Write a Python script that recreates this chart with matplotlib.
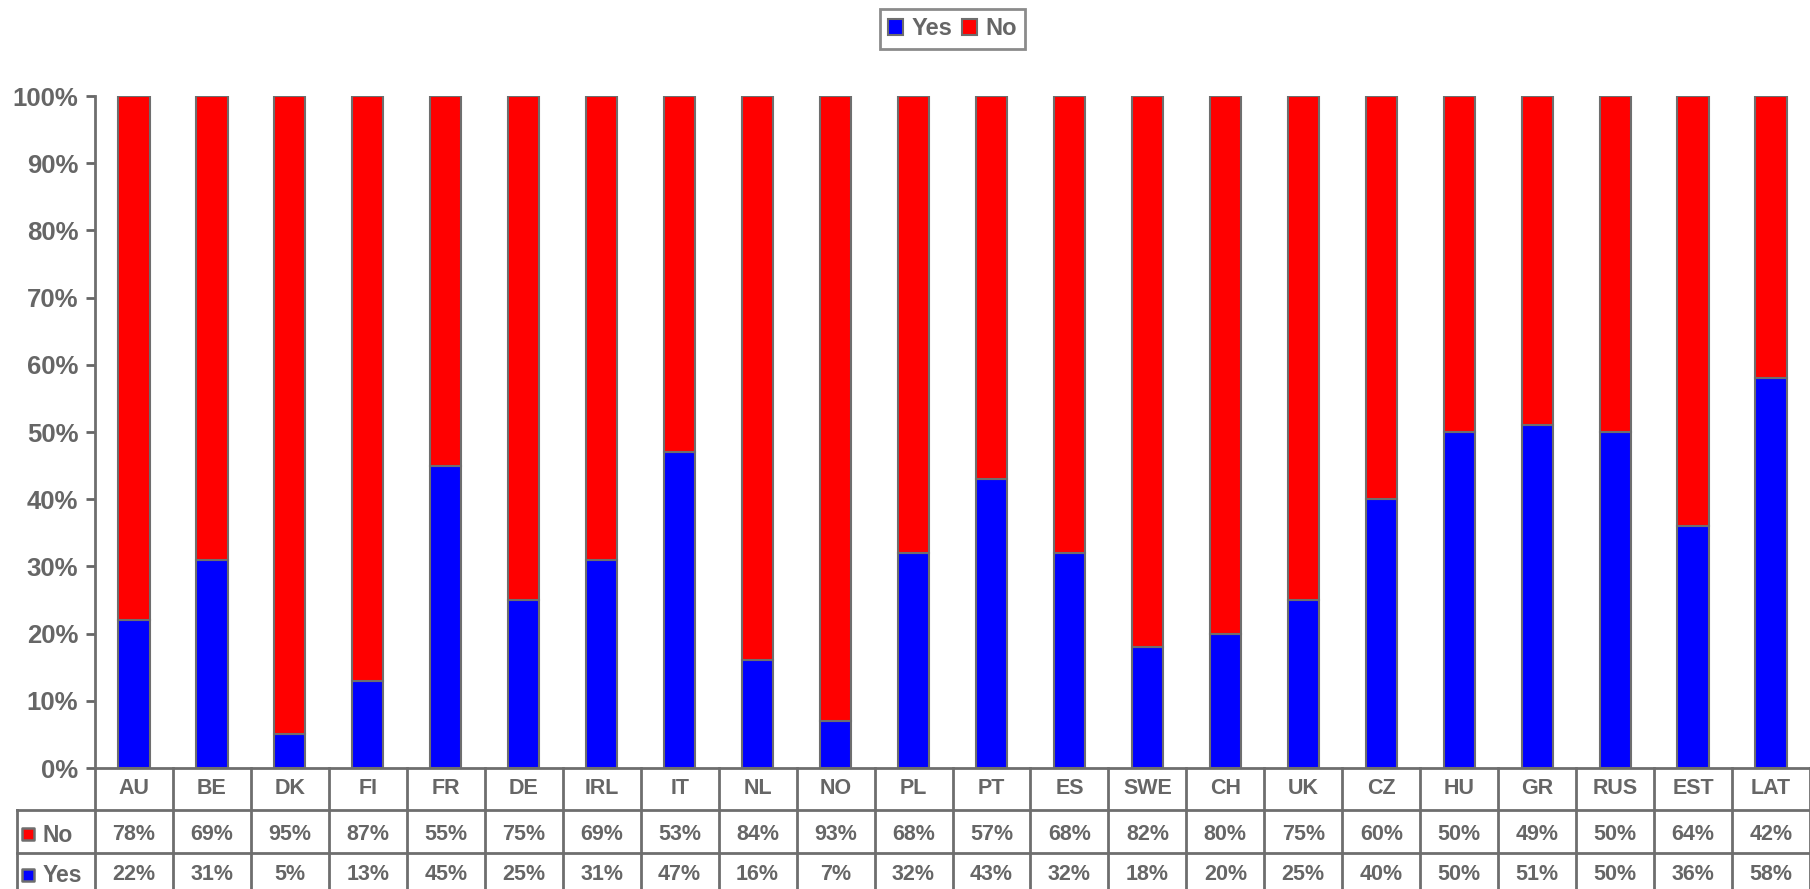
import matplotlib
matplotlib.use("Agg")
import matplotlib.pyplot as plt
from matplotlib.patches import Patch
from matplotlib.ticker import FuncFormatter

categories = ["AU", "BE", "DK", "FI", "FR", "DE", "IRL", "IT", "NL", "NO", "PL",
              "PT", "ES", "SWE", "CH", "UK", "CZ", "HU", "GR", "RUS", "EST", "LAT"]
yes_pct = [22, 31, 5, 13, 45, 25, 31, 47, 16, 7, 32, 43, 32, 18, 20, 25, 40, 50, 51, 50, 36, 58]
no_pct = [78, 69, 95, 87, 55, 75, 69, 53, 84, 93, 68, 57, 68, 82, 80, 75, 60, 50, 49, 50, 64, 42]

BLUE = "#0000FF"
RED = "#FF0000"
GRAY = "#666666"
EDGE = "#6E6E6E"

plt.rcParams["font.family"] = ["Liberation Sans", "DejaVu Sans"]
plt.rcParams["font.weight"] = "bold"

W, H = 1810, 889
fig = plt.figure(figsize=(W / 100, H / 100), dpi=100)

# plot area in pixel terms
left_px, right_px, top_px, bottom_px = 95, 1810, 96, 768
ax = fig.add_axes([left_px / W, (H - bottom_px) / H,
                   (right_px - left_px) / W, (bottom_px - top_px) / H])

n = len(categories)
x = list(range(n))
ax.bar(x, yes_pct, width=0.4, color=BLUE, edgecolor=EDGE, linewidth=1.5, zorder=3)
ax.bar(x, no_pct, width=0.4, bottom=yes_pct, color=RED, edgecolor=EDGE, linewidth=1.5, zorder=3)

ax.set_xlim(-0.5, n - 0.5)
ax.set_ylim(0, 100)
ax.set_yticks(range(0, 101, 10))
ax.yaxis.set_major_formatter(FuncFormatter(lambda v, p: f"{int(v)}%"))
ax.tick_params(axis="y", colors=GRAY, labelcolor=GRAY, labelsize=18.5, length=6.5, width=2, pad=5.5)
ax.tick_params(axis="x", bottom=False, labelbottom=False)
for s in ["top", "right", "bottom"]:
    ax.spines[s].set_visible(False)
ax.spines["left"].set_color(EDGE)
ax.spines["left"].set_linewidth(2)

# data table below the plot, columns aligned with the bars
tax = fig.add_axes([left_px / W, 0, (right_px - left_px) / W, (H - bottom_px) / H])
tax.set_xlim(-0.5, n - 0.5)
tax.set_ylim(H - bottom_px, 0)
tax.axis("off")

lw = 2
tax.plot([-0.5, n - 0.5], [0, 0], color=EDGE, lw=lw, clip_on=False)
for yv in (42, 85):
    tax.plot([-1.5, n - 0.5], [yv, yv], color=EDGE, lw=lw, clip_on=False)
tax.plot([-1.5, -1.5], [42, 128], color=EDGE, lw=lw, clip_on=False)
for k in range(n + 1):
    tax.plot([k - 0.5, k - 0.5], [0, 128], color=EDGE, lw=lw, clip_on=False)

for i, c in enumerate(categories):
    tax.text(i, 20, c, ha="center", va="center", color=GRAY, fontsize=15.5, fontweight="bold")
    tax.text(i, 66, f"{no_pct[i]}%", ha="center", va="center", color=GRAY, fontsize=15.5, fontweight="bold")
    tax.text(i, 107, f"{yes_pct[i]}%", ha="center", va="center", color=GRAY, fontsize=15.5, fontweight="bold")

for label, col, yc in (("No", RED, 66), ("Yes", BLUE, 107)):
    tax.scatter([-1.36], [yc], marker="s", s=85, color=col, edgecolor=EDGE, linewidth=1.8, clip_on=False)
    tax.text(-1.17, yc + 1, label, ha="left", va="center", color=GRAY, fontsize=16.5, fontweight="bold")

handles = [Patch(facecolor=BLUE, edgecolor=EDGE, linewidth=1.5, label="Yes"),
           Patch(facecolor=RED, edgecolor=EDGE, linewidth=1.5, label="No")]
leg = fig.legend(handles=handles, loc="upper center",
                 bbox_to_anchor=((left_px + right_px) / 2 / W, 1 - 9 / H),
                 borderaxespad=0,
                 ncol=2, frameon=True, fancybox=False, fontsize=17,
                 handlelength=0.65, handleheight=0.65, handletextpad=0.35,
                 columnspacing=0.4, borderpad=0.35, labelcolor=GRAY)
leg.get_frame().set_edgecolor(EDGE)
leg.get_frame().set_linewidth(2)
for t in leg.get_texts():
    t.set_fontweight("bold")

fig.savefig("out.png", dpi=100)
